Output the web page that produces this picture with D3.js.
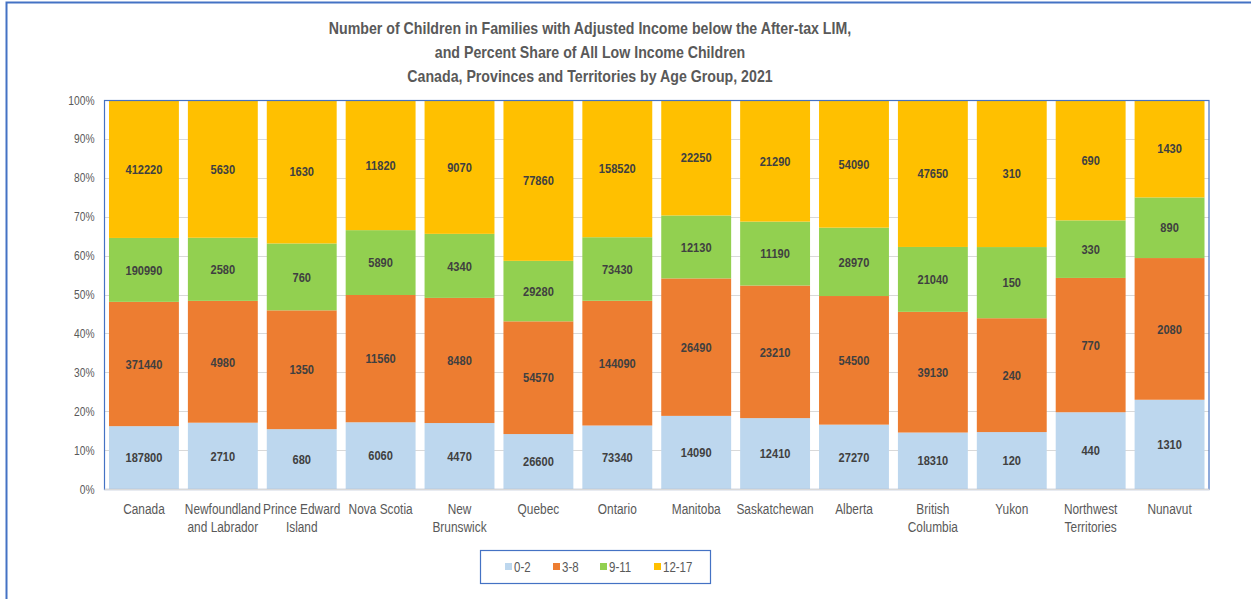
<!DOCTYPE html>
<html>
<head>
<meta charset="utf-8">
<script src="https://cdn.jsdelivr.net/npm/d3@7"></script>
<style>
  html, body { margin: 0; padding: 0; background: #fff; }
  svg { display: block; font-family: "Liberation Sans", Arial, sans-serif; }
</style>
</head>
<body>
<svg id="chart" width="1251" height="599"></svg>
<script>
const categories = ["Canada", "Newfoundland\nand Labrador", "Prince Edward\nIsland", "Nova Scotia", "New\nBrunswick", "Quebec", "Ontario", "Manitoba", "Saskatchewan", "Alberta", "British\nColumbia", "Yukon", "Northwest\nTerritories", "Nunavut"];
const seriesNames = ["0-2", "3-8", "9-11", "12-17"];
const age0to2   = [187800, 2710, 680, 6060, 4470, 26600, 73340, 14090, 12410, 27270, 18310, 120, 440, 1310];
const age3to8   = [371440, 4980, 1350, 11560, 8480, 54570, 144090, 26490, 23210, 54500, 39130, 240, 770, 2080];
const age9to11  = [190990, 2580, 760, 5890, 4340, 29280, 73430, 12130, 11190, 28970, 21040, 150, 330, 890];
const age12to17 = [412220, 5630, 1630, 11820, 9070, 77860, 158520, 22250, 21290, 54090, 47650, 310, 690, 1430];
const yTicks = [0, 0.1, 0.2, 0.3, 0.4, 0.5, 0.6, 0.7, 0.8, 0.9, 1.0];
const titleLines = [
  "Number of Children in Families with Adjusted Income below the After-tax LIM,",
  "and Percent Share of All Low Income Children",
  "Canada, Provinces and Territories by Age Group, 2021"
];
const colors = ["#bdd7ee", "#ed7d31", "#92d050", "#ffc000"];

const NARROW = 0.82; // emulate Arial Narrow

const seriesValues = [age0to2, age3to8, age9to11, age12to17];
const rows = categories.map((c, i) => {
  const r = { cat: c };
  seriesNames.forEach((s, k) => r[s] = seriesValues[k][i]);
  return r;
});

const svg = d3.select("#chart");

function narrowText(parent, px, py, anchor) {
  return parent.append("g").attr("transform", `translate(${px},${py}) scale(${NARROW},1)`)
    .append("text").attr("text-anchor", anchor || "middle");
}

// outer chart border
svg.append("rect").attr("x", 6.5).attr("y", 2.5).attr("width", 1300).attr("height", 700)
  .attr("fill", "none").attr("stroke", "#4472c4").attr("stroke-width", 2);

const plot = { left: 104.5, right: 1209, top: 100, bottom: 489 };

const x = d3.scaleBand().domain(categories).range([plot.left, plot.right])
  .paddingInner(0.114).paddingOuter(0.057);
const y = d3.scaleLinear().domain([0, 1]).range([plot.bottom, plot.top]);

// gridlines
svg.append("g").selectAll("line").data(yTicks.slice(1)).join("line")
  .attr("x1", plot.left).attr("x2", plot.right)
  .attr("y1", d => Math.round(y(d)) + 0.5).attr("y2", d => Math.round(y(d)) + 0.5)
  .attr("stroke", "#d9d9d9").attr("stroke-width", 1);

// stacked percent
const stack = d3.stack().keys(seriesNames).offset(d3.stackOffsetExpand);
const stacked = stack(rows);

const layers = svg.append("g").selectAll("g").data(stacked).join("g")
  .attr("fill", (d, i) => colors[i]);

layers.selectAll("rect").data(d => d).join("rect")
  .attr("x", d => x(d.data.cat))
  .attr("width", x.bandwidth())
  .attr("y", d => y(d[1]))
  .attr("height", d => y(d[0]) - y(d[1]));

// data labels
const lbl = svg.append("g");
stacked.forEach(layer => {
  layer.forEach(d => {
    narrowText(lbl, x(d.data.cat) + x.bandwidth() / 2, (y(d[0]) + y(d[1])) / 2)
      .attr("dy", "0.35em")
      .attr("font-size", 13.5)
      .attr("font-weight", "bold")
      .attr("fill", "#404040")
      .text(d.data[layer.key]);
  });
});

// plot border
svg.append("rect").attr("x", plot.left).attr("y", plot.top + 0.5)
  .attr("width", plot.right - plot.left).attr("height", plot.bottom - plot.top)
  .attr("fill", "none").attr("stroke", "#4472c4").attr("stroke-width", 1.2);
// bottom axis line
svg.append("line").attr("x1", plot.left).attr("x2", plot.right + 0.5)
  .attr("y1", plot.bottom + 0.5).attr("y2", plot.bottom + 0.5)
  .attr("stroke", "#d9d9d9").attr("stroke-width", 1.5);

// y axis
const yAxis = d3.axisLeft(y).tickValues(yTicks).tickFormat(d3.format(".0%")).tickSize(0).tickPadding(10);
const ya = svg.append("g").attr("transform", `translate(${plot.left},0)`).call(yAxis);
ya.select(".domain").remove();
ya.selectAll(".tick text")
  .attr("font-size", 12.5).attr("fill", "#595959")
  .attr("font-family", "\"Liberation Sans\", Arial, sans-serif")
  .attr("transform", `translate(-10,0) scale(${NARROW},1)`).attr("x", 0);

// x axis
const xAxis = d3.axisBottom(x).tickSize(0).tickFormat("");
const xa = svg.append("g").attr("transform", `translate(0,${plot.bottom})`).call(xAxis);
xa.select(".domain").remove();
xa.selectAll(".tick").each(function(d) {
  const t = d3.select(this).append("g").attr("transform", `scale(${NARROW},1)`).append("text")
    .attr("text-anchor", "middle").attr("fill", "#595959").attr("font-size", 14.5)
    .attr("font-family", "\"Liberation Sans\", Arial, sans-serif");
  d.split("\n").forEach((line, i) => {
    t.append("tspan").attr("x", 0).attr("y", 25 + i * 18).text(line);
  });
});

// title
titleLines.forEach((l, i) => {
  narrowText(svg, 590, 34 + i * 24).attr("fill", "#595959")
    .attr("font-size", 17.3).attr("font-weight", "bold").text(l);
});

// legend
const lg = svg.append("g");
lg.append("rect").attr("x", 480.5).attr("y", 550.5).attr("width", 230).attr("height", 33)
  .attr("fill", "#fff").attr("stroke", "#4472c4").attr("stroke-width", 1.2);
const legendX = [505, 553, 600, 654];
seriesNames.forEach((s, i) => {
  lg.append("rect").attr("x", legendX[i]).attr("y", 563).attr("width", 7).attr("height", 7).attr("fill", colors[i]);
  narrowText(lg, legendX[i] + 9, 567, "start").attr("dy", "0.35em")
    .attr("font-size", 14).attr("fill", "#595959").text(s);
});
</script>
</body>
</html>
